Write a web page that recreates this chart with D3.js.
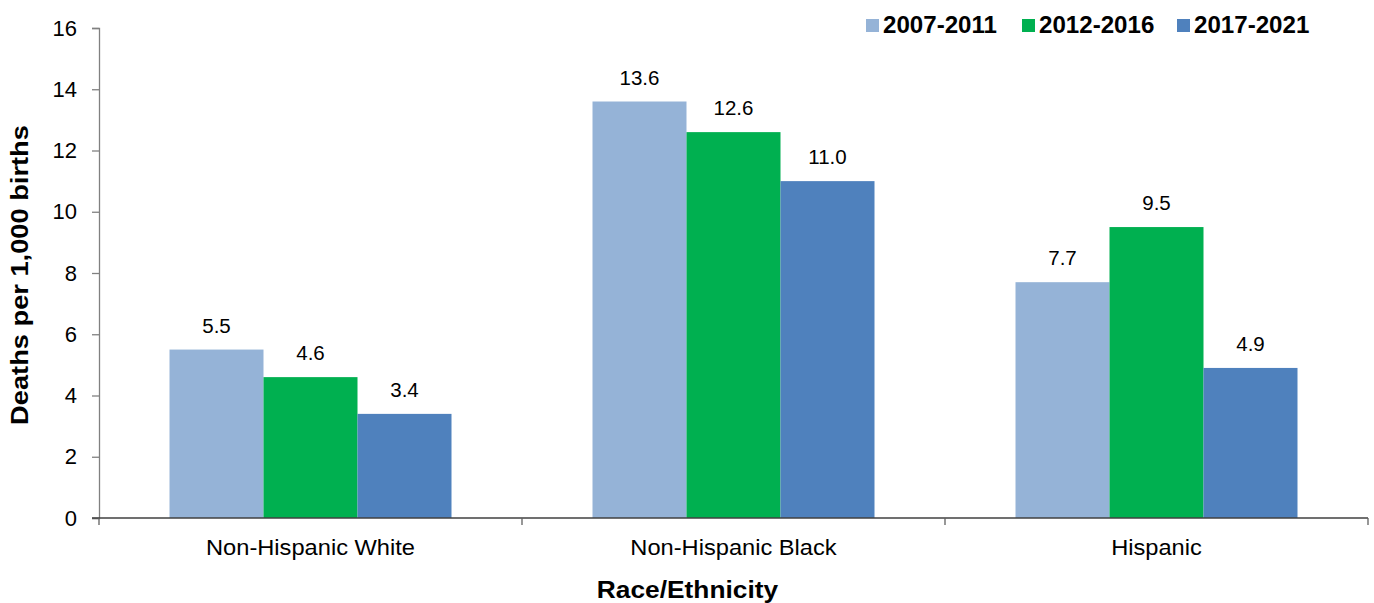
<!DOCTYPE html>
<html><head><meta charset="utf-8">
<script src="https://cdn.jsdelivr.net/npm/d3@7"></script>
<style>body{margin:0;background:#fff}svg{display:block;font-family:"Liberation Sans",Arial,sans-serif}</style>
</head><body>
<svg id="c" width="1374" height="603"></svg>
<script>
const categories = ["Non-Hispanic White","Non-Hispanic Black","Hispanic"];
const seriesNames = ["2007-2011","2012-2016","2017-2021"];
const s2007 = [5.5, 13.6, 7.7];
const s2012 = [4.6, 12.6, 9.5];
const s2017 = [3.4, 11.0, 4.9];
const yTicks = [0,2,4,6,8,10,12,14,16];
const colors = ["#95B3D7","#00B050","#4F81BD"];
const seriesVals = [s2007, s2012, s2017];

(function(){
const svg = d3.select("#c");
const mLeft = 99, mRight = 1368, mTop = 28, mBottom = 518;
const x0 = d3.scaleBand().domain(categories).range([mLeft, mRight]).paddingInner(0).paddingOuter(0);
const bw = 94;
const x1 = d3.scaleBand().domain(seriesNames).range([0, bw*3]);
const y = d3.scaleLinear().domain([0,16]).range([mBottom, mTop]);
const groupPad = (x0.bandwidth() - bw*3)/2;

// bars
categories.forEach((c, ci) => {
  seriesNames.forEach((s, si) => {
    const v = seriesVals[si][ci];
    const bx = x0(c) + groupPad + x1(s);
    svg.append("rect").attr("x", bx).attr("y", y(v)).attr("width", x1.bandwidth()).attr("height", y(0)-y(v)).attr("fill", colors[si]);
    svg.append("text").attr("x", bx + x1.bandwidth()/2).attr("y", y(v) - 17).attr("text-anchor","middle")
      .attr("font-size", 20.5).attr("fill","#000").text(v.toFixed(1));
  });
});

// y axis
const yAxis = svg.append("g").attr("transform", `translate(${mLeft},0)`)
  .call(d3.axisLeft(y).tickValues(yTicks).tickSize(7).tickPadding(15).tickFormat(d3.format("d")));
yAxis.select(".domain").attr("stroke","#808080").attr("stroke-width",1.3);
yAxis.selectAll(".tick line").attr("stroke","#808080").attr("stroke-width",1.3);
yAxis.selectAll(".tick text").attr("font-size",22).attr("fill","#000").attr("font-family","Liberation Sans, Arial, sans-serif");

// x axis
const xAxisG = svg.append("g").attr("transform", `translate(0,${mBottom})`);
xAxisG.append("line").attr("x1", mLeft-7).attr("x2", mRight).attr("y1",0).attr("y2",0).attr("stroke","#404040").attr("stroke-width",1.3);
const bounds = [mLeft, ...categories.map(c => x0(c) + x0.bandwidth())];
xAxisG.selectAll("line.tk").data(bounds).join("line").attr("class","tk")
  .attr("x1", d=>d).attr("x2", d=>d).attr("y1",0).attr("y2",7).attr("stroke","#606060").attr("stroke-width",1.3);
xAxisG.selectAll("g.cat").data(categories).join("g").attr("class","cat")
  .attr("transform", d => `translate(${x0(d) + x0.bandwidth()/2},37) scale(1.1,1)`)
  .append("text").attr("text-anchor","middle")
  .attr("font-size",21.5).attr("fill","#000").text(d=>d);

// axis titles
svg.append("g").attr("transform","translate(28,275) rotate(-90) scale(1.16,1)")
  .append("text").attr("text-anchor","middle")
  .attr("font-size",23.5).attr("font-weight","bold").attr("fill","#000").text("Deaths per 1,000 births");
svg.append("g").attr("transform","translate(687.5,598) scale(1.12,1)")
  .append("text").attr("text-anchor","middle")
  .attr("font-size",23.5).attr("font-weight","bold").attr("fill","#000").text("Race/Ethnicity");

// legend
const legX = [866, 1022, 1177];
seriesNames.forEach((s, i) => {
  const g = svg.append("g").attr("transform", `translate(${legX[i]},0)`);
  g.append("rect").attr("x",0).attr("y",19).attr("width",13).attr("height",13).attr("fill",colors[i]);
  g.append("g").attr("transform","translate(17,33) scale(1.04,1)")
    .append("text").attr("font-size",23.2).attr("font-weight","bold").attr("fill","#000").text(s);
});
})();
</script>
</body></html>
